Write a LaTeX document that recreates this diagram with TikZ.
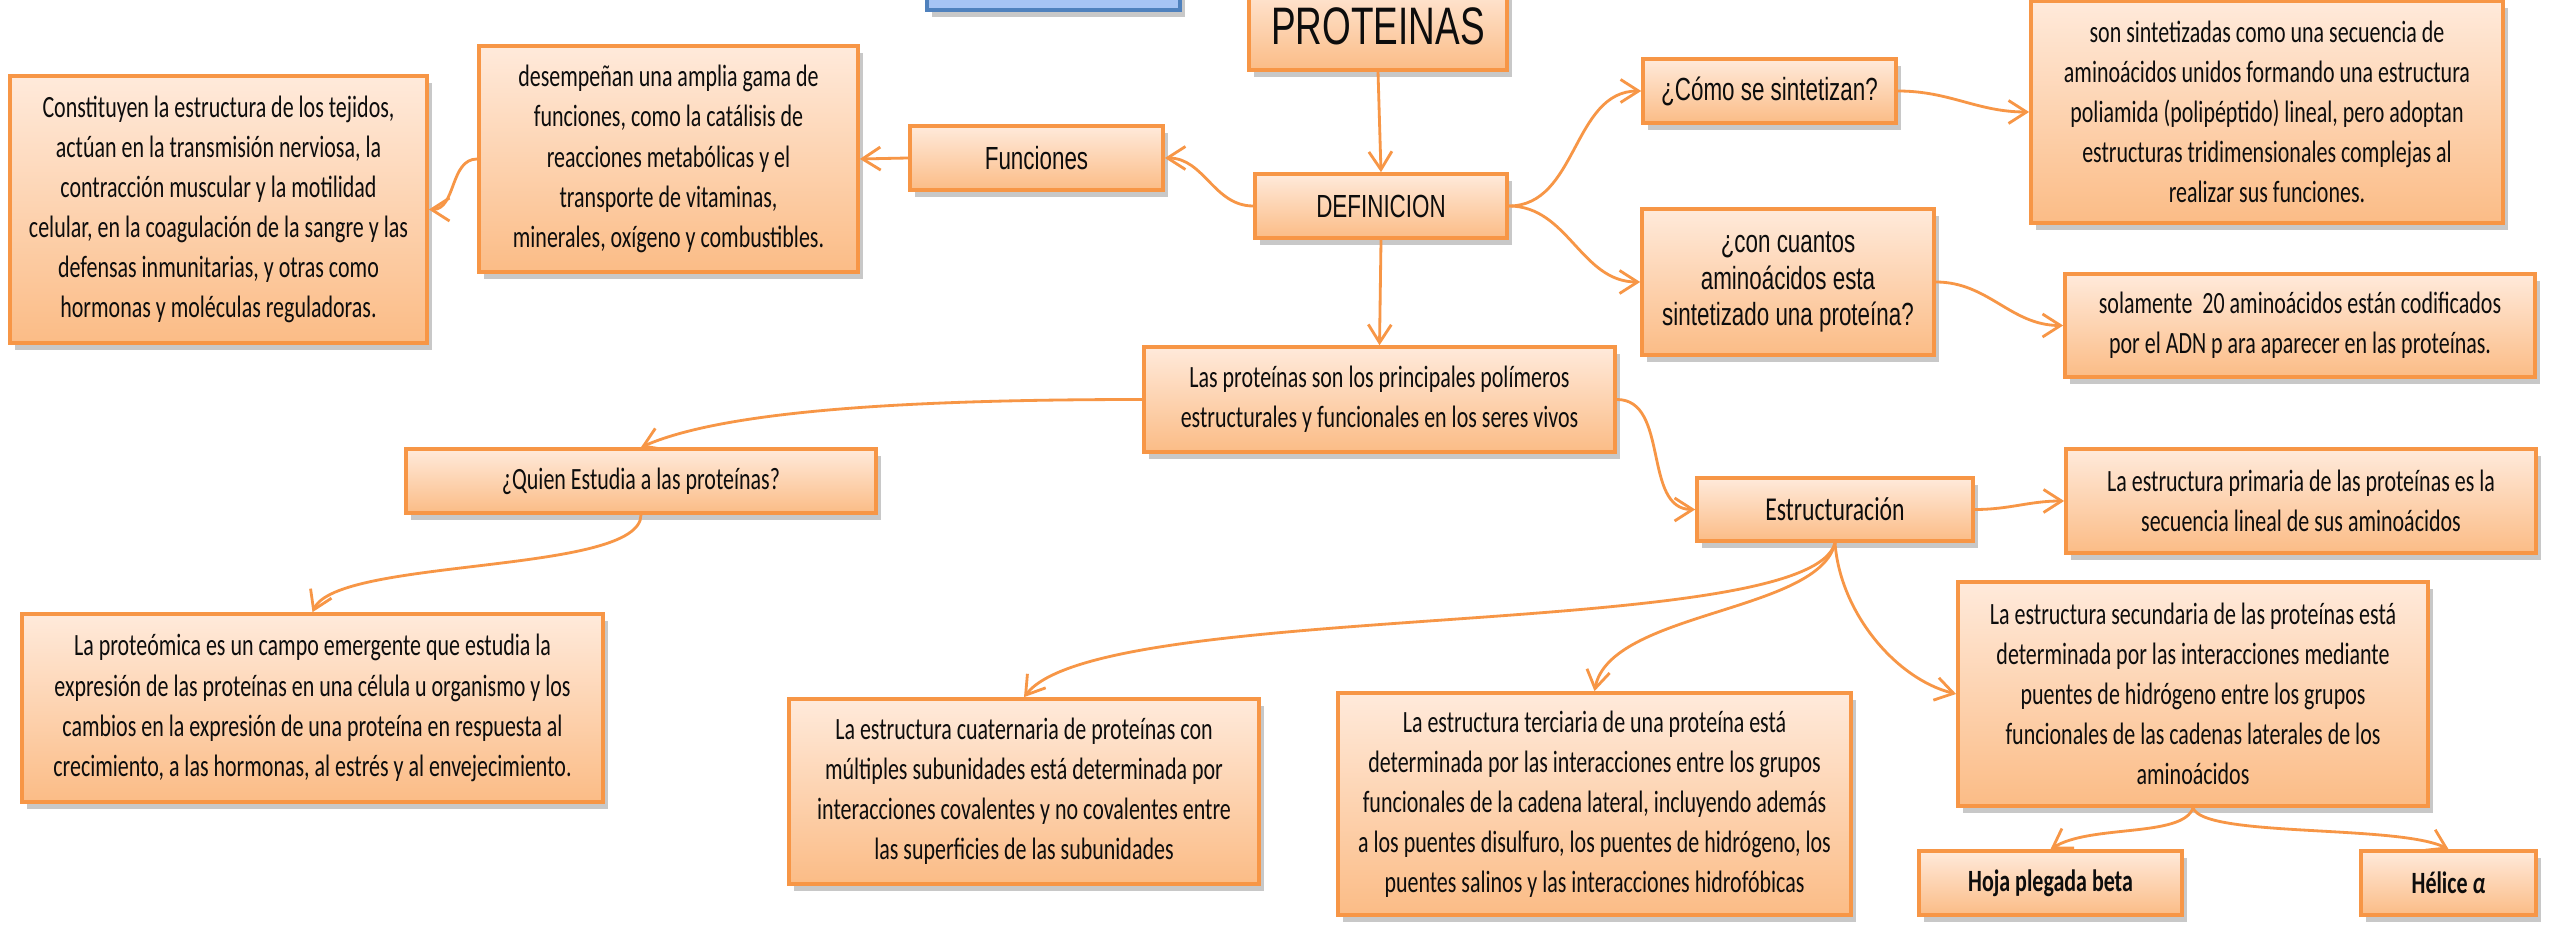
\documentclass[tikz,border=0pt]{standalone}
\usepackage{fontspec}
\setmainfont{Carlito}[FakeStretch=0.71]
\newfontfamily\arialf{Liberation Sans}[FakeStretch=0.7]
\usetikzlibrary{arrows.meta,shadows}
\definecolor{orbord}{HTML}{F79646}
\definecolor{ortop}{HTML}{FFEADB}
\definecolor{orbot}{HTML}{FBBC86}
\definecolor{bluefill}{HTML}{A6C4F4}
\definecolor{blueline}{HTML}{4F81BD}
\definecolor{txt}{HTML}{0D0D0D}
\tikzset{
  box/.style={draw=orbord, line width=1pt, top color=ortop, bottom color=orbot,
    drop shadow={shadow xshift=0.5mm, shadow yshift=-0.7mm, opacity=0.3, fill=black!70},
    align=center, inner sep=0pt, text=txt, font=\fontsize{8.8}{11.4}\selectfont},
  afont/.style={font=\arialf\fontsize{9.1}{10.5}\selectfont},
  conn/.style={draw=orbord, line width=0.8pt, -{Straight Barb[length=1.8mm,width=2.3mm]}},
}
\begin{document}
\begin{tikzpicture}[x=0.01cm,y=-0.01cm]
\useasboundingbox (0,0) rectangle (2567,928);
\fill[white] (0,0) rectangle (2567,928);

% nodes
\node[draw=blueline, fill=bluefill, line width=1pt, minimum width=2.53cm, minimum height=0.5cm,
  drop shadow={shadow xshift=0.5mm, shadow yshift=-0.7mm, opacity=0.3, fill=black!70}] (blue) at (1053.5,-15) {};
\node[box, font=\arialf\fontsize{15}{18}\selectfont, minimum width=2.58cm, minimum height=0.88cm] (prot) at (1378,26) {PROTEINAS};
\node[box, afont, minimum width=2.52cm, minimum height=0.64cm] (def) at (1381,206) {DEFINICION};
\node[box, afont, minimum width=2.53cm, minimum height=0.64cm] (fun) at (1036.5,158) {Funciones};
\node[box, minimum width=3.79cm, minimum height=2.26cm] (des) at (668.5,159) {desempeñan una amplia gama de\\ funciones, como la catálisis de\\ reacciones metabólicas y el\\ transporte de vitaminas,\\ minerales, oxígeno y combustibles.};
\node[box, minimum width=4.17cm, minimum height=2.67cm] (cons) at (218.5,209.5) {Constituyen la estructura de los tejidos,\\ actúan en la transmisión nerviosa, la\\ contracción muscular y la motilidad\\ celular, en la coagulación de la sangre y las\\ defensas inmunitarias, y otras como\\ hormonas y moléculas reguladoras.};
\node[box, afont, minimum width=2.53cm, minimum height=0.64cm] (como) at (1769.5,91) {¿Cómo se sintetizan?};
\node[box, minimum width=4.72cm, minimum height=2.22cm] (sint) at (2267,112) {son sintetizadas como una secuencia de\\ aminoácidos unidos formando una estructura\\ poliamida (polipéptido) lineal, pero adoptan\\ estructuras tridimensionales complejas al\\ realizar sus funciones.};
\node[box, afont, minimum width=2.92cm, minimum height=1.46cm] (cuan) at (1788,282) {¿con cuantos\\ aminoácidos esta\\ sintetizado una proteína?};
\node[box, minimum width=4.70cm, minimum height=1.03cm] (sol) at (2300,325.5) {solamente~ 20 aminoácidos están codificados\\ por el ADN p ara aparecer en las proteínas.};
\node[box, minimum width=4.71cm, minimum height=1.05cm] (las) at (1379.5,399.5) {Las proteínas son los principales polímeros\\ estructurales y funcionales en los seres vivos};
\node[box, minimum width=4.70cm, minimum height=0.64cm] (quien) at (641,481) {¿Quien Estudia a las proteínas?};
\node[box, minimum width=5.81cm, minimum height=1.88cm] (proteo) at (312.5,708) {La proteómica es un campo emergente que estudia la\\ expresión de las proteínas en una célula u organismo y los\\ cambios en la expresión de una proteína en respuesta al\\ crecimiento, a las hormonas, al estrés y al envejecimiento.};
\node[box, font=\fontsize{9.5}{11.4}\selectfont, minimum width=2.76cm, minimum height=0.63cm] (est) at (1835,509.5) {Estructuración};
\node[box, minimum width=4.70cm, minimum height=1.04cm] (prim) at (2301,501) {La estructura primaria de las proteínas es la\\ secuencia lineal de sus aminoácidos};
\node[box, minimum width=4.70cm, minimum height=2.24cm] (sec) at (2193,694) {La estructura secundaria de las proteínas está\\ determinada por las interacciones mediante\\ puentes de hidrógeno entre los grupos\\ funcionales de las cadenas laterales de los\\ aminoácidos};
\node[box, minimum width=4.70cm, minimum height=1.85cm] (cuat) at (1024,791.5) {La estructura cuaternaria de proteínas con\\ múltiples subunidades está determinada por\\ interacciones covalentes y no covalentes entre\\ las superficies de las subunidades};
\node[box, minimum width=5.13cm, minimum height=2.22cm] (terc) at (1594.5,804) {La estructura terciaria de una proteína está\\ determinada por las interacciones entre los grupos\\ funcionales de la cadena lateral, incluyendo además\\ a los puentes disulfuro, los puentes de hidrógeno, los\\ puentes salinos y las interacciones hidrofóbicas};
\node[box, minimum width=2.63cm, minimum height=0.64cm] (hoja) at (2050.5,883) {\textbf{Hoja plegada beta}};
\node[box, minimum width=1.75cm, minimum height=0.64cm] (heli) at (2448.5,883) {\textbf{Hélice \textit{α}}};

% connectors
\draw[conn] (prot.south) -- (def.north);
\draw[conn] (def.west) to[out=180,in=0] (fun.east);
\draw[conn] (fun.west) -- (des.east);
\draw[conn] (des.west) to[out=180,in=0] (cons.east);
\draw[conn] (def.east) to[out=0,in=180] (como.west);
\draw[conn] (def.east) to[out=0,in=180] (cuan.west);
\draw[conn] (como.east) to[out=0,in=180] (sint.west);
\draw[conn] (cuan.east) to[out=0,in=180] (sol.west);
\draw[conn] (def.south) -- (las.north);
\draw[conn] (las.west) .. controls +(-250,0) and +(80,-35) .. (quien.north);
\draw[conn] (las.east) to[out=0,in=180] (est.west);
\draw[conn] (quien.south) .. controls +(0,60) and +(25,-55) .. (proteo.north);
\draw[conn] (est.east) to[out=0,in=180] (prim.west);
\draw[conn] (est.south) .. controls +(-25,99) and +(76,-99) .. (cuat.north);
\draw[conn] (est.south) .. controls +(-15,70) and +(15,-80) .. (terc.north);
\draw[conn] (est.south) .. controls +(5,70) and +(-60,-15) .. (sec.west);
\draw[conn] (sec.south) .. controls +(-10,30) and +(40,-25) .. (hoja.north);
\draw[conn] (sec.south) .. controls +(10,30) and +(-50,-25) .. (heli.north);
\end{tikzpicture}
\end{document}
